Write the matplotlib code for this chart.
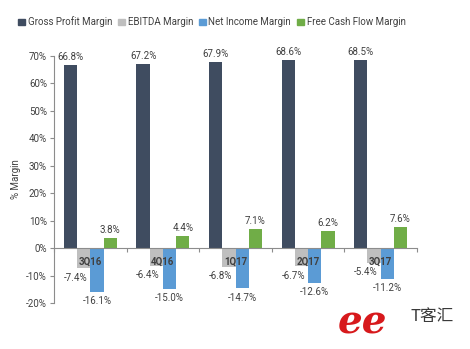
import matplotlib
matplotlib.use("Agg")
import matplotlib.pyplot as plt
import numpy as np
from matplotlib.patches import Patch

categories = ["3Q16", "4Q16", "1Q17", "2Q17", "3Q17"]
series_names = ["Gross Profit Margin", "EBITDA Margin", "Net Income Margin", "Free Cash Flow Margin"]
gross = [66.8, 67.2, 67.9, 68.6, 68.5]
ebitda = [-7.4, -6.4, -6.8, -6.7, -5.4]
net_income = [-16.1, -15.0, -14.7, -12.6, -11.2]
fcf = [3.8, 4.4, 7.1, 6.2, 7.6]
yticks = [-20, -10, 0, 10, 20, 30, 40, 50, 60, 70]
colors = ["#3f4c60", "#bfbfbf", "#5b9bd5", "#70ad47"]

plt.rcParams['font.family'] = ['Roboto', 'DejaVu Sans']
text_color = "#404040"

fig = plt.figure(figsize=(4.7, 3.49), dpi=100)
ax = fig.add_axes([54/470, 1-303/349, (417-54)/470, (303-56)/349])

x = np.arange(len(categories))
w = 0.182
series = [gross, ebitda, net_income, fcf]
offsets = [-1.5*w, -0.5*w, 0.5*w, 1.5*w]
for vals, off, c in zip(series, offsets, colors):
    ax.bar(x + off, vals, width=w, color=c, zorder=2)
    for xi, v in zip(x, vals):
        if v >= 0:
            ax.annotate(f"{v:.1f}%", (xi + off, v), xytext=(0, 2), textcoords="offset points",
                        ha="center", va="bottom", fontsize=7, color=text_color)
        else:
            dx = -6 if c == colors[1] else 0
            ax.annotate(f"{v:.1f}%", (xi + off, v), xytext=(dx, -3), textcoords="offset points",
                        ha="center", va="top", fontsize=7, color=text_color)

for xi, cat in zip(x, categories):
    ax.text(xi, -4.8, cat, ha="center", va="center", fontsize=7, fontweight="bold",
            color=text_color, zorder=5)

ax.set_xlim(-0.5, len(categories) - 0.5)
ax.set_ylim(-20, 70)
ax.set_yticks(yticks)
ax.set_yticklabels([f"{t}%" for t in yticks], fontsize=7, color=text_color)
ax.set_ylabel("% Margin", fontsize=7, color=text_color, labelpad=4)

ax.spines['top'].set_visible(False)
ax.spines['right'].set_visible(False)
ax.spines['bottom'].set_position(('data', 0))
for s in ['left', 'bottom']:
    ax.spines[s].set_color("#8c8c8c")
    ax.spines[s].set_linewidth(0.8)
ax.set_xticks(np.arange(len(categories) + 1) - 0.5)
ax.set_xticklabels([])
ax.tick_params(axis='x', length=3, color="#8c8c8c", direction='out')
ax.tick_params(axis='y', length=3, color="#8c8c8c", pad=2)

handles = [Patch(color=c) for c in colors]
fig.legend(handles, series_names, loc="center left", bbox_to_anchor=(14/470, 1-22/349),
           ncol=4, frameon=False, fontsize=7, handlelength=0.7, handleheight=0.7,
           handletextpad=0.3, columnspacing=0.6, labelcolor=text_color, borderaxespad=0)

# watermark
fig.text(362/470, 1-322/349, "ee", fontsize=28, fontstyle="italic", fontweight="bold",
         family="DejaVu Serif", color="#d7191c", ha="center", va="center")
fig.text(432/470, 1-317/349, "T客汇", fontsize=12,
         family=["Noto Sans CJK SC", "DejaVu Sans"], color="#3a3a3a", ha="center", va="center")

fig.savefig("out.png", dpi=100)
